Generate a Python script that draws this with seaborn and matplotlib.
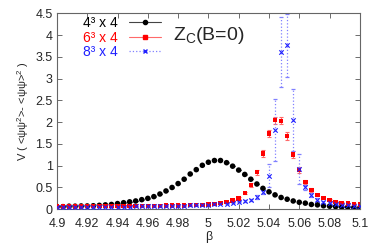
import numpy as np
import pandas as pd
import matplotlib
matplotlib.use("Agg")
import matplotlib.pyplot as plt
import seaborn as sns
from matplotlib.lines import Line2D
from matplotlib.ticker import FormatStrFormatter, MultipleLocator

# beta grid (same for all three lattices)
beta = [4.900, 4.904, 4.908, 4.912, 4.916, 4.920, 4.924, 4.928, 4.932, 4.936,
        4.940, 4.944, 4.948, 4.952, 4.956, 4.960, 4.964, 4.968, 4.972, 4.976,
        4.980, 4.984, 4.988, 4.992, 4.996, 5.000, 5.004, 5.008, 5.012, 5.016,
        5.020, 5.024, 5.028, 5.032, 5.036, 5.040, 5.044, 5.048, 5.052, 5.056,
        5.060, 5.064, 5.068, 5.072, 5.076, 5.080, 5.084, 5.088, 5.092, 5.096,
        5.100]

# 4^3 x 4
v4 = [0.06, 0.06, 0.07, 0.07, 0.075, 0.075, 0.08, 0.09, 0.10, 0.11,
      0.13, 0.15, 0.17, 0.19, 0.22, 0.25, 0.29, 0.35, 0.42, 0.50,
      0.59, 0.69, 0.81, 0.91, 1.01, 1.08, 1.12, 1.12, 1.07, 0.99,
      0.90, 0.80, 0.69, 0.58, 0.48, 0.40, 0.33, 0.27, 0.23, 0.19,
      0.16, 0.14, 0.11, 0.10, 0.08, 0.07, 0.06, 0.05, 0.05, 0.04,
      0.035]
e4 = [0.005] * 51

# 6^3 x 4
v6 = [0.065, 0.065, 0.066, 0.067, 0.067, 0.068, 0.068, 0.069, 0.07, 0.07,
      0.071, 0.072, 0.073, 0.074, 0.075, 0.076, 0.078, 0.08, 0.082, 0.085,
      0.088, 0.09, 0.094, 0.098, 0.10, 0.11, 0.12, 0.14, 0.16, 0.20,
      0.25, 0.37, 0.56, 0.85, 1.28, 1.74, 2.05, 2.03, 1.68, 1.26,
      0.90, 0.62, 0.44, 0.33, 0.26, 0.21, 0.17, 0.14, 0.13, 0.12,
      0.11]
e6 = [0.01] * 25 + [0.01, 0.01, 0.015, 0.015, 0.02,
                    0.02, 0.03, 0.04, 0.06, 0.08, 0.09, 0.08, 0.08, 0.09, 0.09,
                    0.06, 0.05, 0.04, 0.03, 0.02, 0.02, 0.02, 0.02, 0.02, 0.02,
                    0.02]

# 8^3 x 4
v8 = [0.05, 0.05, 0.05, 0.052, 0.052, 0.053, 0.054, 0.055, 0.056, 0.057,
      0.058, 0.06, 0.061, 0.063, 0.065, 0.067, 0.07, 0.072, 0.075, 0.078,
      0.08, 0.085, 0.09, 0.095, 0.10, 0.10, 0.11, 0.12, 0.13, 0.15,
      0.17, 0.19, 0.22, 0.28, 0.40, 0.77, 1.82, 3.62, 3.77, 2.06,
      0.92, 0.50, 0.33, 0.22, 0.16, 0.14, 0.11, 0.10, 0.09, 0.08,
      0.07]
e8 = [0.01] * 30 + [0.01, 0.015, 0.02, 0.04, 0.05,
                    0.27, 0.71, 0.80, 0.72, 0.71, 0.34, 0.06, 0.04, 0.03, 0.02,
                    0.02, 0.02, 0.02, 0.02, 0.02, 0.02]

labels = ["4³ x 4", "6³ x 4", "8³ x 4"]

sns.set_style("ticks")
plt.rcParams['font.family'] = ['Liberation Sans', 'DejaVu Sans']
plt.rcParams['mathtext.fontset'] = 'custom'
plt.rcParams['mathtext.rm'] = 'Liberation Sans'
plt.rcParams['mathtext.it'] = 'Liberation Sans'

fig = plt.figure(figsize=(3.82, 2.45), dpi=100)
ax = fig.add_axes([0.149, 0.146, 0.793, 0.799])

df = pd.DataFrame({"beta": beta * 3,
                   "V": v4 + v6 + v8,
                   "err": e4 + e6 + e8,
                   "L": [labels[0]] * 51 + [labels[1]] * 51 + [labels[2]] * 51})

styles = {
    labels[0]: dict(color="black", ecolor="#444444", marker="o", ms=16, ls="-", lw=0.8),
    labels[1]: dict(color="#ff0000", ecolor="#ff6a6a", marker="s", ms=10, ls="-", lw=0.8),
    labels[2]: dict(color="#2020ff", ecolor="#8080ff", marker="x", ms=10, ls=":", lw=0.9),
}

for lab in labels:
    sub = df[df["L"] == lab]
    st = styles[lab]
    eb = ax.errorbar(sub["beta"], sub["V"], yerr=sub["err"], fmt="none",
                     ecolor=st["ecolor"], elinewidth=st["lw"], capsize=1.5,
                     capthick=st["lw"], zorder=2)
    for coll in eb[2]:
        coll.set_linestyle(st["ls"])
    sns.scatterplot(data=sub, x="beta", y="V", ax=ax, color=st["color"],
                    marker=st["marker"], s=st["ms"], linewidth=0.8 if st["marker"] == "x" else 0,
                    edgecolor=st["color"] if st["marker"] == "x" else "none",
                    legend=False, zorder=3)

ax.set_xlim(4.9, 5.1)
ax.set_ylim(0, 4.5)
ax.xaxis.set_major_locator(MultipleLocator(0.02))
ax.yaxis.set_major_locator(MultipleLocator(0.5))
ax.xaxis.set_major_formatter(FormatStrFormatter('%g'))
ax.yaxis.set_major_formatter(FormatStrFormatter('%g'))
ax.tick_params(direction="in", top=True, right=True, length=3.5, width=0.6,
               labelsize=9, color="#555555")
ax.tick_params(axis="x", pad=6)
ax.tick_params(axis="y", pad=3)
for sp in ax.spines.values():
    sp.set_linewidth(0.8)
    sp.set_color("#666666")

ax.set_xlabel("β", fontsize=9, labelpad=1)
ax.set_ylabel("V ( <ψψ$^2$>- <ψψ>$^2$ )", fontsize=8, labelpad=3)

ax.text(0.383, 0.862, "Z$_\\mathrm{C}$(B=0)", transform=ax.transAxes,
        fontsize=14, va="baseline", ha="left")

handles = []
for lab in labels:
    st = styles[lab]
    handles.append(Line2D([], [], color=st["ecolor"], ls=st["ls"], lw=st["lw"],
                          marker=st["marker"], markersize=3,
                          markerfacecolor=st["color"], markeredgecolor=st["color"]))
leg = ax.legend(handles, labels, loc="upper left", bbox_to_anchor=(0.06, 1.03),
                frameon=False, markerfirst=False, fontsize=10, handlelength=2.3,
                handletextpad=0.8, labelspacing=0.05, borderaxespad=0.2,
                labelcolor=["black", "#ff0000", "#2020ff"])

fig.savefig("out.png", dpi=100)
